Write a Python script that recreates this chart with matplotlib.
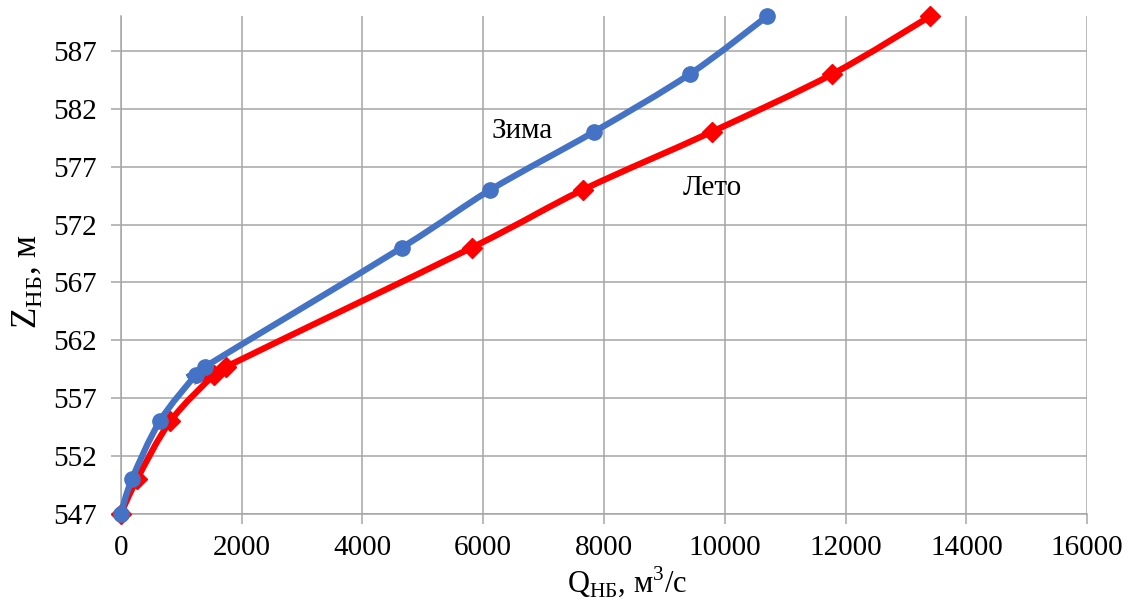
import numpy as np
import matplotlib
matplotlib.use("Agg")
from matplotlib import pyplot as plt
from matplotlib.path import Path
from matplotlib.patches import PathPatch

# Winter / summer tailwater rating curves
q_winter = [0, 185, 645, 1240, 1390, 4650, 6120, 7830, 9420, 10700]
z_winter = [547, 550, 555, 559, 559.7, 570, 575, 580, 585, 590]
q_summer = [0, 270, 820, 1540, 1740, 5810, 7650, 9780, 11780, 13400]
z_summer = [547, 550, 555, 559, 559.7, 570, 575, 580, 585, 590]

x_ticks = list(range(0, 16001, 2000))
y_ticks = list(range(547, 588, 5))

plt.rcParams['font.family'] = ['Liberation Serif', 'DejaVu Serif']
plt.rcParams['mathtext.fontset'] = 'custom'
plt.rcParams['mathtext.rm'] = 'Liberation Serif'


# Smoothed line like the spreadsheet one: cubic bezier through the points
def smooth_path(xs, ys):
    p = np.column_stack([xs, ys]).astype(float)
    n = len(p)
    verts = [p[0]]
    codes = [Path.MOVETO]
    for i in range(n - 1):
        p0 = p[i - 1] if i > 0 else p[i]
        p3 = p[i + 2] if i + 2 < n else p[i + 1]
        c1 = p[i] + (p[i + 1] - p0) / 6.0
        c2 = p[i + 1] - (p3 - p[i]) / 6.0
        verts += [c1, c2, p[i + 1]]
        codes += [Path.CURVE4] * 3
    return Path(verts, codes)


fig = plt.figure(figsize=(11.29, 6.01), dpi=100)
ax = fig.add_axes([0.107, 0.145, 0.856, 0.828])

grid_col = '#a6a6a6'
ax.set_xlim(0, 16000)
ax.set_ylim(547, 590)
ax.set_xticks(x_ticks)
ax.set_yticks(y_ticks)
ax.grid(True, color=grid_col, linewidth=1.1)
ax.set_axisbelow(True)
for s in ['top', 'right']:
    ax.spines[s].set_visible(False)
for s in ['left', 'bottom']:
    ax.spines[s].set_color(grid_col)
    ax.spines[s].set_linewidth(1.1)
ax.tick_params(axis='both', colors=grid_col, labelcolor='black', labelsize=21, length=7, width=1.1)
ax.tick_params(axis='y', pad=10)
ax.tick_params(axis='x', pad=8)

blue = '#4472c4'
red = '#ff0000'
ax.add_patch(PathPatch(smooth_path(q_summer, z_summer), facecolor='none', edgecolor=red, lw=4.5, zorder=3, clip_on=False))
ax.plot(q_summer, z_summer, linestyle='none', marker='D', markersize=10, color=red, zorder=4, clip_on=False)
ax.add_patch(PathPatch(smooth_path(q_winter, z_winter), facecolor='none', edgecolor=blue, lw=4.5, zorder=5, clip_on=False))
ax.plot(q_winter, z_winter, linestyle='none', marker='o', markersize=11, color=blue, zorder=6, clip_on=False)

ax.text(6650, 580.1, 'Зима', fontsize=21, ha='center', va='center')
ax.text(9790, 575.2, 'Лето', fontsize=21, ha='center', va='center')

ax.set_xlabel('Q$_\\mathregular{НБ}$, м$^\\mathregular{3}$/с', fontsize=22)
ax.set_ylabel('Z$_\\mathregular{НБ}$, м', fontsize=25)
ax.xaxis.set_label_coords(0.524, -0.1)
ax.yaxis.set_label_coords(-0.079, 0.466)

fig.savefig('out.png', dpi=100)
